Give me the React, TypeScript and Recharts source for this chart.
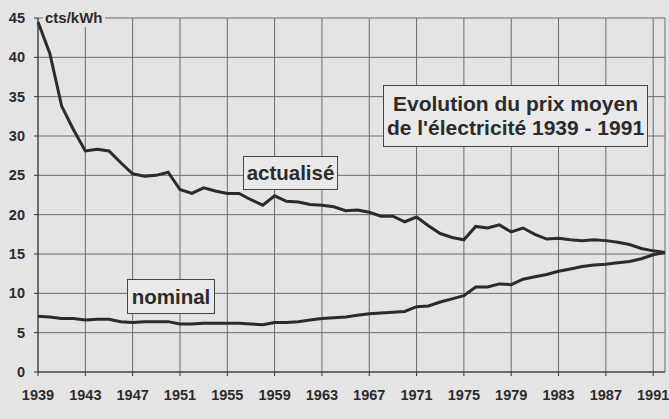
import { LineChart, Line, XAxis, YAxis, CartesianGrid } from 'recharts'

const years = [
  1939, 1940, 1941, 1942, 1943, 1944, 1945, 1946, 1947, 1948, 1949, 1950, 1951, 1952,
  1953, 1954, 1955, 1956, 1957, 1958, 1959, 1960, 1961, 1962, 1963, 1964, 1965, 1966,
  1967, 1968, 1969, 1970, 1971, 1972, 1973, 1974, 1975, 1976, 1977, 1978, 1979, 1980,
  1981, 1982, 1983, 1984, 1985, 1986, 1987, 1988, 1989, 1990, 1991, 1992,
]

// cts/kWh, prix actualisé
const actualise = [
  44.5, 40.5, 33.8, 30.8, 28.1, 28.3, 28.1, 26.6, 25.2, 24.9, 25.0, 25.4, 23.2, 22.7,
  23.4, 23.0, 22.7, 22.7, 21.9, 21.2, 22.4, 21.7, 21.6, 21.3, 21.2, 21.0, 20.5, 20.6,
  20.3, 19.8, 19.8, 19.1, 19.7, 18.6, 17.6, 17.1, 16.8, 18.5, 18.3, 18.7, 17.8, 18.3,
  17.5, 16.9, 17.0, 16.8, 16.7, 16.8, 16.7, 16.5, 16.2, 15.7, 15.4, 15.2,
]

// cts/kWh, prix nominal
const nominal = [
  7.1, 7.0, 6.8, 6.8, 6.6, 6.7, 6.7, 6.4, 6.3, 6.4, 6.4, 6.4, 6.1, 6.1,
  6.2, 6.2, 6.2, 6.2, 6.1, 6.0, 6.3, 6.3, 6.4, 6.6, 6.8, 6.9, 7.0, 7.2,
  7.4, 7.5, 7.6, 7.7, 8.3, 8.4, 8.9, 9.3, 9.7, 10.8, 10.8, 11.2, 11.1, 11.8,
  12.1, 12.4, 12.8, 13.1, 13.4, 13.6, 13.7, 13.9, 14.05, 14.4, 14.9, 15.2,
]

const xTicks = [1939, 1943, 1947, 1951, 1955, 1959, 1963, 1967, 1971, 1975, 1979, 1983, 1987, 1991]
const yTicks = [0, 5, 10, 15, 20, 25, 30, 35, 40, 45]

const data = years.map((y, i) => ({ year: y, actualise: actualise[i], nominal: nominal[i] }))

const font = '"Liberation Sans", Arial, sans-serif'
const ink = '#2b2b2b'

const boxStyle: React.CSSProperties = {
  position: 'absolute',
  border: '1.5px solid #444',
  background: '#e9e9e9',
  color: ink,
  fontFamily: font,
  fontWeight: 'bold',
  display: 'flex',
  alignItems: 'center',
  justifyContent: 'center',
  boxSizing: 'border-box',
  textAlign: 'center',
}

export default function App() {
  return (
    <div style={{ position: 'relative', width: 669, height: 419, background: '#e4e4e4' }}>
      <style>{'body{margin:0}'}</style>
      <LineChart width={669} height={419} data={data} margin={{ top: 18, right: 4, bottom: 7, left: 0 }}>
        <CartesianGrid stroke="#6a6a6a" strokeWidth={1} />
        <XAxis
          dataKey="year"
          type="number"
          domain={[1939, 1992]}
          ticks={xTicks}
          height={40}
          tickSize={4}
          tickMargin={14}
          stroke="#333"
          tick={{ fontSize: 14.5, fontWeight: 'bold', fill: ink, fontFamily: font }}
        />
        <YAxis
          type="number"
          domain={[0, 45]}
          ticks={yTicks}
          width={38}
          tickSize={4}
          tickMargin={9}
          stroke="#333"
          tick={{ fontSize: 14.5, fontWeight: 'bold', fill: ink, fontFamily: font }}
        />
        <Line dataKey="actualise" stroke={ink} strokeWidth={3} dot={false} isAnimationActive={false} type="linear" />
        <Line dataKey="nominal" stroke={ink} strokeWidth={3} dot={false} isAnimationActive={false} type="linear" />
      </LineChart>
      <div
        style={{
          position: 'absolute', left: 43, top: 9, padding: '0 2px', background: '#e4e4e4',
          fontFamily: font, fontWeight: 'bold', fontSize: 15, color: ink, lineHeight: '18px',
        }}
      >
        cts/kWh
      </div>
      <div style={{ ...boxStyle, left: 383, top: 85, width: 265, height: 62, fontSize: 21, lineHeight: '24px' }}>
        Evolution du prix moyen<br />de l'électricité 1939 - 1991
      </div>
      <div style={{ ...boxStyle, left: 243, top: 156, width: 95, height: 34, fontSize: 20.5 }}>actualisé</div>
      <div style={{ ...boxStyle, left: 127, top: 279, width: 88, height: 35, fontSize: 20.5 }}>nominal</div>
    </div>
  )
}
